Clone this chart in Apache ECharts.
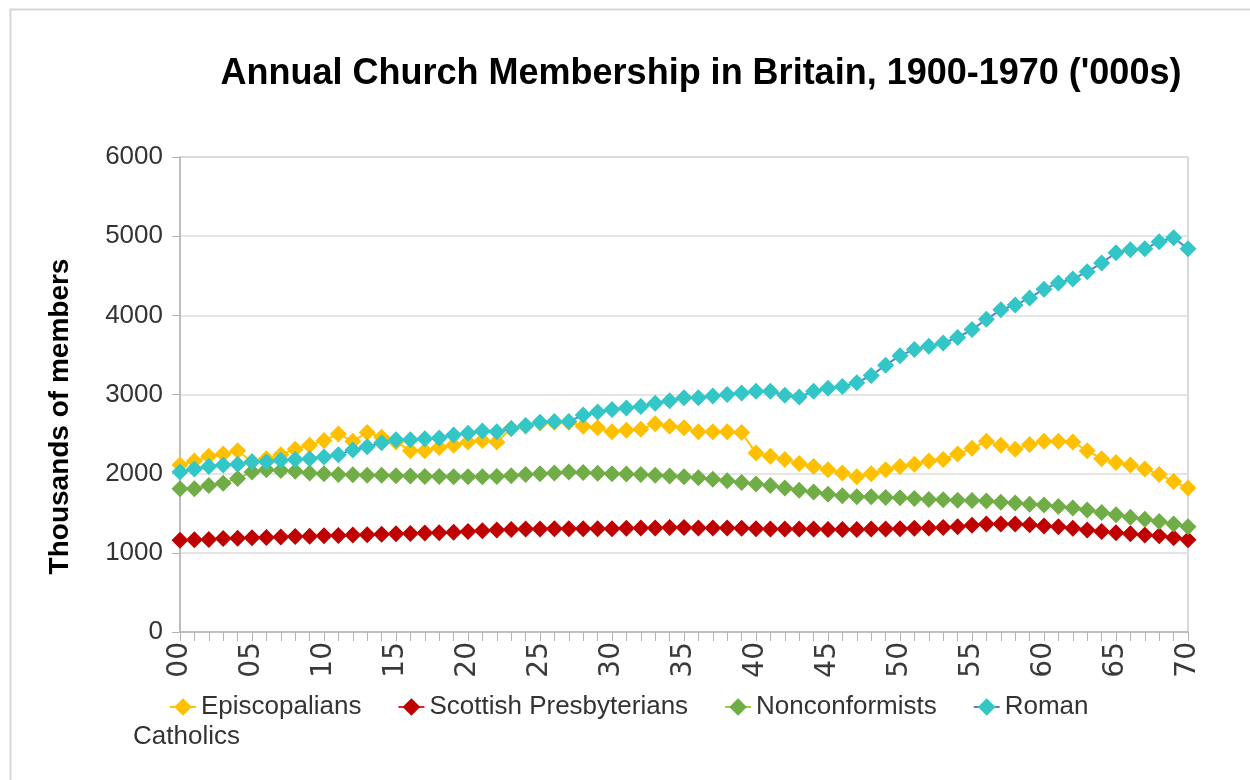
<!DOCTYPE html>
<html>
<head>
<meta charset="utf-8">
<script src="https://cdn.jsdelivr.net/npm/echarts@6/dist/echarts.min.js"></script>
<style>
html,body{margin:0;padding:0;background:#fff;}
#chart{width:1250px;height:780px;}
</style>
</head>
<body>
<div id="chart"></div>
<script>
var years = ['00','01','02','03','04','05','06','07','08','09',
  '10','11','12','13','14','15','16','17','18','19',
  '20','21','22','23','24','25','26','27','28','29',
  '30','31','32','33','34','35','36','37','38','39',
  '40','41','42','43','44','45','46','47','48','49',
  '50','51','52','53','54','55','56','57','58','59',
  '60','61','62','63','64','65','66','67','68','69','70'];

var episcopalians = [2110,2160,2220,2250,2290,2150,2190,2240,2310,2360,
  2420,2500,2410,2520,2460,2400,2290,2290,2330,2360,
  2400,2420,2400,2570,2600,2640,2650,2650,2600,2580,
  2530,2550,2560,2630,2600,2580,2530,2530,2530,2520,
  2260,2220,2180,2130,2090,2050,2010,1960,2000,2050,
  2090,2120,2160,2180,2250,2320,2410,2360,2310,2370,
  2410,2410,2400,2290,2190,2140,2110,2060,1990,1900,1820];

var scottishPresbyterians = [1160,1165,1170,1180,1185,1190,1195,1200,1205,1210,
  1215,1220,1225,1230,1235,1240,1245,1250,1255,1260,
  1270,1280,1290,1295,1300,1300,1305,1305,1305,1305,
  1305,1310,1315,1315,1320,1320,1315,1315,1315,1310,
  1305,1300,1300,1300,1300,1295,1295,1295,1300,1300,
  1305,1310,1315,1320,1330,1350,1365,1365,1365,1355,
  1340,1330,1310,1290,1270,1255,1240,1225,1215,1190,1165];

var nonconformists = [1810,1810,1850,1880,1940,2020,2050,2040,2030,2010,
  2000,1990,1985,1980,1980,1975,1970,1965,1965,1960,
  1960,1960,1965,1975,1990,2000,2010,2020,2015,2005,
  2000,1995,1990,1980,1970,1960,1950,1930,1910,1890,
  1870,1850,1820,1790,1770,1740,1720,1710,1710,1700,
  1695,1685,1675,1670,1665,1660,1655,1640,1630,1615,
  1605,1585,1565,1540,1510,1480,1450,1425,1395,1365,1330];

var romanCatholics = [2020,2060,2090,2110,2120,2150,2150,2170,2180,2190,
  2210,2240,2300,2340,2390,2430,2430,2440,2450,2490,
  2510,2540,2530,2570,2610,2650,2660,2660,2740,2780,
  2810,2830,2850,2890,2920,2960,2960,2980,3000,3020,
  3040,3040,2990,2970,3040,3080,3100,3150,3240,3370,
  3490,3570,3610,3650,3720,3820,3950,4070,4130,4220,
  4330,4410,4460,4550,4660,4790,4830,4840,4930,4980,4840];

var yTicks = [0,1000,2000,3000,4000,5000,6000];

var FONT = '"Liberation Sans", Arial, sans-serif';

function mkSeries(name, data, markerColor, lineColor) {
  return {
    name: name,
    type: 'line',
    data: data,
    symbol: 'diamond',
    symbolSize: 17,
    showAllSymbol: true,
    itemStyle: { color: markerColor },
    lineStyle: { color: lineColor, width: 2 },
    emphasis: { disabled: true },
    animation: false
  };
}

var chart = echarts.init(document.getElementById('chart'), null, {renderer: 'canvas'});
chart.setOption({
  backgroundColor: '#ffffff',
  animation: false,
  title: {
    text: "Annual Church Membership in Britain, 1900-1970 ('000s)",
    left: 701,
    top: 56,
    textAlign: 'center',
    padding: 0,
    textStyle: { fontFamily: FONT, fontWeight: 'bold', fontSize: 36, color: '#000' }
  },
  grid: {
    left: 180, right: 62, top: 157, bottom: 148,
    show: true, borderColor: '#b3b3b3', borderWidth: 1, backgroundColor: 'transparent'
  },
  legend: {
    left: 169, top: 692, padding: 0,
    itemWidth: 26, itemHeight: 22, itemGap: 36,
    textStyle: { fontFamily: FONT, fontSize: 26, color: '#333', lineHeight: 30 },
    formatter: function (n) { return n === 'Roman Catholics' ? 'Roman' : n; },
    data: ['Episcopalians','Scottish Presbyterians','Nonconformists','Roman Catholics']
  },
  graphic: [
    { type: 'rect', left: 8, top: 7, shape: { width: 1300, height: 840 },
      style: { fill: 'none', stroke: '#d6d6d6', lineWidth: 2 }, silent: true },
    { type: 'text', left: 133, top: 724,
      style: { text: 'Catholics', font: '26px ' + FONT, fill: '#333' } }
  ],
  xAxis: {
    type: 'category',
    data: years,
    boundaryGap: false,
    axisLine: { lineStyle: { color: '#b3b3b3', width: 1.5 } },
    axisTick: { show: true, interval: 0, length: 9, lineStyle: { color: '#b3b3b3' } },
    axisLabel: { interval: 4, rotate: 90, margin: 10, fontFamily: '"DejaVu Sans", sans-serif', fontSize: 28, color: '#3a3a3a' },
    splitLine: { show: false }
  },
  yAxis: {
    type: 'value',
    min: 0, max: 6000, interval: 1000,
    name: 'Thousands of members',
    nameLocation: 'middle',
    nameGap: 106,
    nameTextStyle: { fontFamily: FONT, fontWeight: 'bold', fontSize: 28, color: '#000', padding: [0, 44, 0, 0] },
    axisLine: { show: true, lineStyle: { color: '#b3b3b3', width: 1.5 } },
    axisTick: { show: true, length: 8, lineStyle: { color: '#b3b3b3' } },
    axisLabel: { margin: 17, fontFamily: FONT, fontSize: 26, color: '#333',
      formatter: function (v) { return yTicks.indexOf(v) >= 0 ? String(v) : ''; } },
    splitLine: { lineStyle: { color: '#dcdcdc', width: 1.5 } }
  },
  series: [
    mkSeries('Episcopalians', episcopalians, '#FFC000', '#FFC400'),
    mkSeries('Scottish Presbyterians', scottishPresbyterians, '#C00000', '#D9263F'),
    mkSeries('Nonconformists', nonconformists, '#70AD47', '#9ACD32'),
    mkSeries('Roman Catholics', romanCatholics, '#33C6C6', '#5A7FD6')
  ]
});
</script>
</body>
</html>
